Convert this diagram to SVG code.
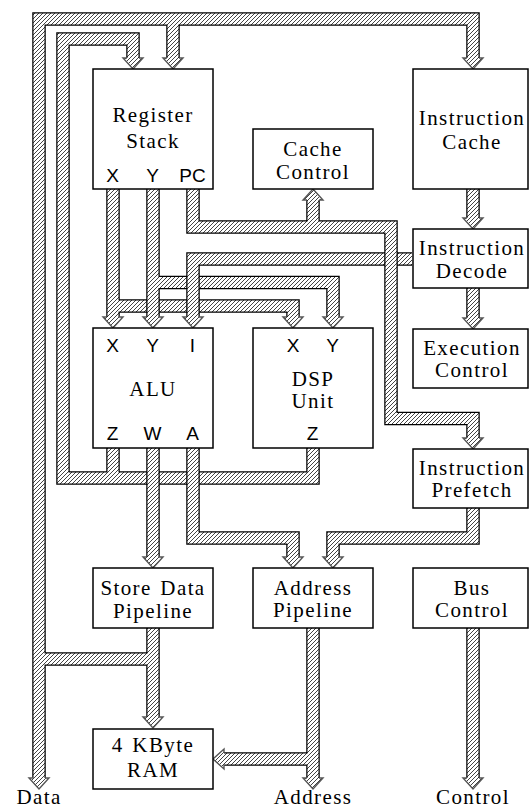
<svg xmlns="http://www.w3.org/2000/svg" width="529" height="809" viewBox="0 0 529 809">
<defs>
<pattern id="h" width="4" height="4" patternUnits="userSpaceOnUse">
<rect width="4" height="4" fill="#fff"/>
<path d="M-1,1 L1,-1 M0,4 L4,0 M3,5 L5,3" stroke="#444" stroke-width="1"/>
</pattern>
<style>
.o{fill:none;stroke:#000;stroke-width:13.5;stroke-linejoin:miter;stroke-linecap:butt}
.i{fill:none;stroke:url(#h);stroke-width:11;stroke-linejoin:miter;stroke-linecap:butt}
.ah{fill:url(#h);stroke:#555;stroke-width:1.4;stroke-linejoin:miter}
.box{fill:#fff;stroke:#000;stroke-width:1.5}
.t{font-family:'Liberation Serif','DejaVu Serif',serif;font-size:21px;letter-spacing:1.4px;word-spacing:2px;text-anchor:middle;fill:#000}
.p{font-family:'Liberation Sans','DejaVu Sans',sans-serif;font-size:19px;text-anchor:middle;fill:#000}
</style>
</defs>

<g id="connectors">
  <g id="bus-data">
    <path class="o" d="M39,778 V19 H473 V58 M173,19 V58 M153,628 V717 M39,659 H153"/>
    <path class="ah" d="M33,778 L29,778 L39,789 L49,778 L45,778"/>
    <path class="ah" d="M167,58 L163,58 L173,69 L183,58 L179,58"/>
    <path class="ah" d="M467,58 L463,58 L473,69 L483,58 L479,58"/>
    <path class="ah" d="M147,717 L143,717 L153,728 L163,717 L159,717"/>
    <path class="i" d="M39,779 V19 H473 V59 M173,19 V59 M153,628 V718 M39,659 H153"/>
  </g>
  <g id="bus-result">
    <path class="o" d="M133,58 V39 H63 V478 H313 V448 M113,448 V478"/>
    <path class="ah" d="M127,58 L123,58 L133,69 L143,58 L139,58"/>
    <path class="i" d="M133,59 V39 H63 V478 H313 V448 M113,448 V478"/>
  </g>
  <g id="bus-alu-w">
    <path class="o" d="M153,448 V557"/>
    <path class="ah" d="M147,557 L143,557 L153,568 L163,557 L159,557"/>
    <path class="i" d="M153,448 V558"/>
  </g>
  <g id="bus-alu-a">
    <path class="o" d="M193,448 V538 H293 V557"/>
    <path class="ah" d="M287,557 L283,557 L293,568 L303,557 L299,557"/>
    <path class="i" d="M193,448 V538 H293 V558"/>
  </g>
  <g id="bus-x">
    <path class="o" d="M113,189 V317 M113,306 H293 V317"/>
    <path class="ah" d="M107,317 L103,317 L113,328 L123,317 L119,317"/>
    <path class="ah" d="M287,317 L283,317 L293,328 L303,317 L299,317"/>
    <path class="i" d="M113,189 V318 M113,306 H293 V318"/>
  </g>
  <g id="bus-y">
    <path class="o" d="M153,189 V317 M153,282.5 H333 V317"/>
    <path class="ah" d="M147,317 L143,317 L153,328 L163,317 L159,317"/>
    <path class="ah" d="M327,317 L323,317 L333,328 L343,317 L339,317"/>
    <path class="i" d="M153,189 V318 M153,282.5 H333 V318"/>
  </g>
  <g id="bus-i">
    <path class="o" d="M412,259 H193 V317"/>
    <path class="ah" d="M187,317 L183,317 L193,328 L203,317 L199,317"/>
    <path class="i" d="M412,259 H193 V318"/>
  </g>
  <g id="bus-pc">
    <path class="o" d="M193,189 V227 H391 V418.5 H473 V438 M313,227 V200"/>
    <path class="ah" d="M467,438 L463,438 L473,449 L483,438 L479,438"/>
    <path class="ah" d="M307,200 L303,200 L313,189 L323,200 L319,200"/>
    <path class="i" d="M193,189 V227 H391 V418.5 H473 V439 M313,227 V199"/>
  </g>
  <g id="bus-prefetch">
    <path class="o" d="M473,508 V538 H333 V557"/>
    <path class="ah" d="M327,557 L323,557 L333,568 L343,557 L339,557"/>
    <path class="i" d="M473,508 V538 H333 V558"/>
  </g>
  <g id="bus-address">
    <path class="o" d="M313,628 V778 M313,759 H224"/>
    <path class="ah" d="M307,778 L303,778 L313,789 L323,778 L319,778"/>
    <path class="ah" d="M224,753 L224,749 L213,759 L224,769 L224,765"/>
    <path class="i" d="M313,628 V779 M313,759 H223"/>
  </g>
  <g id="bus-control">
    <path class="o" d="M473,628 V778"/>
    <path class="ah" d="M467,778 L463,778 L473,789 L483,778 L479,778"/>
    <path class="i" d="M473,628 V779"/>
  </g>
  <g id="bus-ic-id">
    <path class="o" d="M473,189 V218"/>
    <path class="ah" d="M467,218 L463,218 L473,229 L483,218 L479,218"/>
    <path class="i" d="M473,189 V219"/>
  </g>
  <g id="bus-id-ec">
    <path class="o" d="M473,288 V318"/>
    <path class="ah" d="M467,318 L463,318 L473,329 L483,318 L479,318"/>
    <path class="i" d="M473,288 V319"/>
  </g>
</g>

<g id="register-stack">
  <rect class="box" x="93" y="69" width="120" height="120"/>
  <text class="t" x="153" y="122">Register</text>
  <text class="t" x="153" y="148">Stack</text>
  <text class="p" x="112.5" y="182">X</text>
  <text class="p" x="152.5" y="182">Y</text>
  <text class="p" x="192.5" y="182">PC</text>
</g>
<g id="instruction-cache">
  <rect class="box" x="413" y="69" width="115" height="120"/>
  <text class="t" x="472" y="125">Instruction</text>
  <text class="t" x="472" y="149">Cache</text>
</g>
<g id="cache-control">
  <rect class="box" x="253" y="129" width="120" height="60"/>
  <text class="t" x="313" y="156">Cache</text>
  <text class="t" x="313" y="179">Control</text>
</g>
<g id="instruction-decode">
  <rect class="box" x="413" y="229" width="115" height="59"/>
  <text class="t" x="472" y="255">Instruction</text>
  <text class="t" x="472" y="278">Decode</text>
</g>
<g id="execution-control">
  <rect class="box" x="413" y="329" width="115" height="59"/>
  <text class="t" x="472" y="355">Execution</text>
  <text class="t" x="472" y="377">Control</text>
</g>
<g id="alu">
  <rect class="box" x="93" y="328" width="120" height="120"/>
  <text class="t" x="153" y="396">ALU</text>
  <text class="p" x="112.5" y="352">X</text>
  <text class="p" x="152.5" y="352">Y</text>
  <text class="p" x="192.5" y="352">I</text>
  <text class="p" x="112.5" y="440">Z</text>
  <text class="p" x="152.5" y="440">W</text>
  <text class="p" x="192.5" y="440">A</text>
</g>
<g id="dsp-unit">
  <rect class="box" x="253" y="328" width="120" height="120"/>
  <text class="t" x="313" y="386">DSP</text>
  <text class="t" x="313" y="408">Unit</text>
  <text class="p" x="293" y="352">X</text>
  <text class="p" x="332.5" y="352">Y</text>
  <text class="p" x="312.5" y="440">Z</text>
</g>
<g id="instruction-prefetch">
  <rect class="box" x="413" y="449" width="115" height="59"/>
  <text class="t" x="472" y="475">Instruction</text>
  <text class="t" x="472" y="497">Prefetch</text>
</g>
<g id="store-data-pipeline">
  <rect class="box" x="93" y="568" width="120" height="60"/>
  <text class="t" x="153" y="595">Store Data</text>
  <text class="t" x="153" y="618">Pipeline</text>
</g>
<g id="address-pipeline">
  <rect class="box" x="253" y="568" width="120" height="60"/>
  <text class="t" x="313" y="595">Address</text>
  <text class="t" x="313" y="617">Pipeline</text>
</g>
<g id="bus-control-box">
  <rect class="box" x="413" y="568" width="115" height="60"/>
  <text class="t" x="472" y="595">Bus</text>
  <text class="t" x="472" y="617">Control</text>
</g>
<g id="ram">
  <rect class="box" x="93" y="729" width="120" height="60"/>
  <text class="t" x="153" y="752">4 KByte</text>
  <text class="t" x="153" y="777">RAM</text>
</g>
<g id="labels">
  <text class="t" x="39" y="804">Data</text>
  <text class="t" x="313" y="804">Address</text>
  <text class="t" x="473" y="804">Control</text>
</g>
</svg>
